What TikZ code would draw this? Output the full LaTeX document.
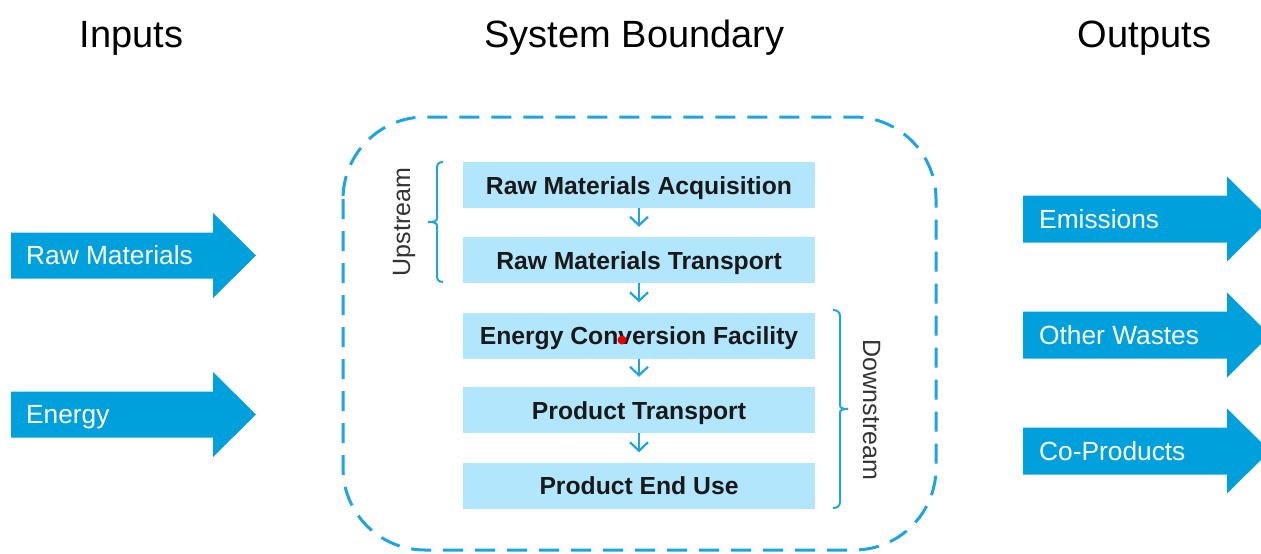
\documentclass[tikz,border=0pt]{standalone}
\usepackage{fontspec}
\setmainfont{Liberation Sans}
\usetikzlibrary{arrows.meta}
\definecolor{bigblue}{RGB}{0,160,220}
\definecolor{lineblue}{RGB}{30,165,225}
\definecolor{boxblue}{RGB}{178,230,252}
\tikzset{
  titletext/.style={anchor=base, inner sep=0pt, font=\fontsize{38}{44}\selectfont},
  arrowtext/.style={anchor=west, inner sep=0pt, text=white, text height=18.5pt, text depth=0pt, font=\fontsize{26.3}{30}\selectfont},
  bigarrow/.style={fill=bigblue, draw=none},
  stagebox/.style={fill=boxblue, draw=none, minimum width=352pt, minimum height=46pt, inner sep=0pt, text height=18pt, text depth=0pt, text=black!90, font=\bfseries\fontsize{24.7}{30}\selectfont},
  smallarrow/.style={draw=lineblue, line width=2.2pt, -{Straight Barb[length=8.5pt,width=18pt,line width=2.2pt]}, shorten >=10pt},
  bracket/.style={draw=lineblue, line width=2pt},
  sidetext/.style={inner sep=0pt, text height=18pt, text depth=0pt, font=\fontsize{25}{30}\selectfont, text=black!80},
  boundary/.style={draw=lineblue, line width=3pt, dash pattern=on 20pt off 12pt, rounded corners=82pt}
}
\newcommand\leftarr[3]{% name, y center, text
  \fill[bigarrow] (11,#2-23) -- (213,#2-23) -- (213,#2-42.5) -- (256,#2) -- (213,#2+42.5) -- (213,#2+23) -- (11,#2+23) -- cycle;
  \node[arrowtext] (#1) at (26,#2) {#3};}
\newcommand\rightarr[3]{%
  \fill[bigarrow] (1023,#2-23.5) -- (1227,#2-23.5) -- (1227,#2-42.5) -- (1270,#2) -- (1227,#2+42.5) -- (1227,#2+23.5) -- (1023,#2+23.5) -- cycle;
  \node[arrowtext] (#1) at (1039,#2) {#3};}
\begin{document}
\begin{tikzpicture}[x=1pt,y=-1pt]
\useasboundingbox (0,0) rectangle (1261,554);
\fill[white] (0,0) rectangle (1261,554);
% titles
\node[titletext] (tin) at (131.5,47) {Inputs};
\node[titletext] (tsys) at (634.5,47) {System Boundary};
\node[titletext] (tout) at (1144.5,47) {Outputs};
% input arrows
\leftarr{rawmat}{255.5}{Raw Materials}
\leftarr{energy}{414.5}{Energy}
% output arrows
\rightarr{emis}{219}{Emissions}
\rightarr{waste}{335}{Other Wastes}
\rightarr{coprod}{451}{Co-Products}
% boundary
\draw[boundary] (343,117) rectangle (936,550);
% stages
\node[stagebox] (b1) at (639,185) {Raw Materials Acquisition};
\node[stagebox] (b2) at (639,260) {Raw Materials Transport};
\node[stagebox] (b3) at (639,335.5) {Energy Conversion Facility};
\node[stagebox] (b4) at (639,410) {Product Transport};
\node[stagebox] (b5) at (639,485.5) {Product End Use};
\draw[smallarrow] (b1.south) -- (b2.north);
\draw[smallarrow] (b2.south) -- (b3.north);
\draw[smallarrow] (b3.south) -- (b4.north);
\draw[smallarrow] (b4.south) -- (b5.north);
% red dot
\fill[red!90!black] (622,340) circle (4.5pt);
% upstream bracket
\draw[bracket] (443,162) .. controls (439,162) and (437,164) .. (437,168) -- (437,218) .. controls (437,221) and (435,222) .. (428,222) .. controls (435,222) and (437,223) .. (437,226) -- (437,276) .. controls (437,280) and (439,282) .. (443,282);
\node[sidetext, rotate=90] (up) at (401,222) {Upstream};
% downstream bracket
\draw[bracket] (833,310) .. controls (837,310) and (840,312) .. (840,316) -- (840,405) .. controls (840,408) and (842,409) .. (848,409) .. controls (842,409) and (840,410) .. (840,413) -- (840,502) .. controls (840,506) and (837,508) .. (833,508);
\node[sidetext, rotate=-90] (down) at (872,410) {Downstream};
\end{tikzpicture}
\end{document}
